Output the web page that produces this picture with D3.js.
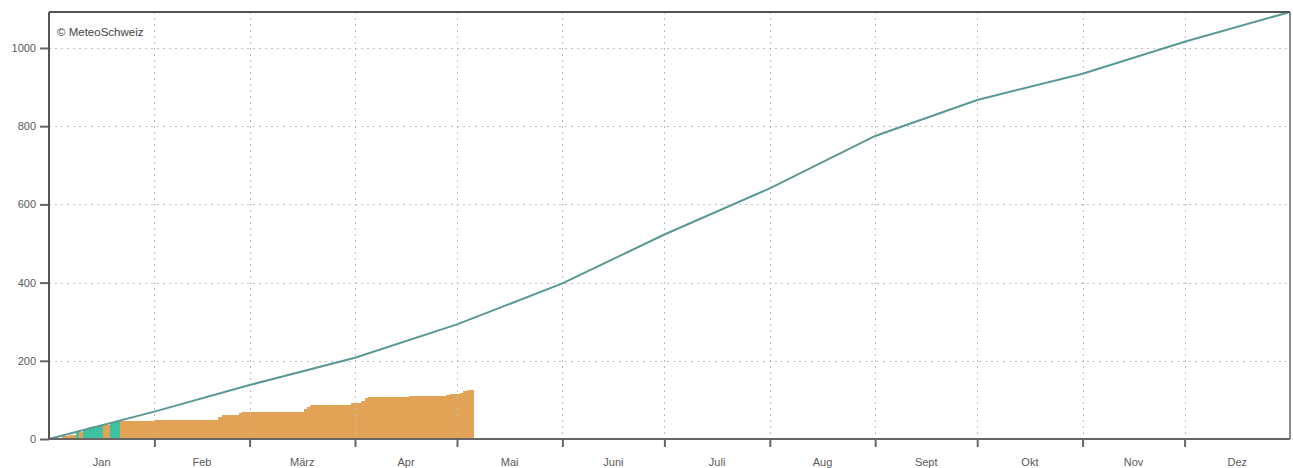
<!DOCTYPE html>
<html><head><meta charset="utf-8">
<script src="https://cdn.jsdelivr.net/npm/d3@7"></script>
<style>
html,body{margin:0;padding:0;background:#fff;}
svg{display:block;font-family:"Liberation Sans",Arial,sans-serif;}
</style></head>
<body>
<svg id="chart" width="1293" height="468"></svg>
<script>
const months = ["Jan","Feb","März","Apr","Mai","Juni","Juli","Aug","Sept","Okt","Nov","Dez"];
// cumulative normal precipitation (mm) at each month start, Jan 1 .. Jan 1 next year
const normalValues = [0,70,138,208,293,398,523,641,775,867,934,1016,1092];
// observed daily cumulative precipitation (mm) from Jan 1
const dailyCumulative = [
  0,0.5,1,2,7,8,9,10,19,19,
  24,27,30,32,33.5,35,35,35,42,44,
  46.5,47,47,47,47,47,47,47,47,47,
  47,48,48,48,48,48,48,48,48,48,
  48,48,48,48,48,48,48,48,48,48,
  56,61,61,61,61,61,66,69,69,69,
  69,69,69,69,69,69,69,69,69,69,
  69,69,69,69,69,76,82,87,88,88,
  88,88,88,88,88,88,88,88,88,92,
  92,92,96,106,108,108,108,108,108,108,
  108,108,108,108,108,108,109,109,109,109,
  109,109,109,109,109,109,109,113,114,114,
  115,118,124,125,125
];
const yTicks = [0,200,400,600,800,1000];
const copyright = "© MeteoSchweiz";

(function(){
const year = 2023;
const monthStarts = d3.range(13).map(m => new Date(Date.UTC(year, m, 1)));
const dayDates = dailyCumulative.map((v,i) => new Date(Date.UTC(year, 0, 1 + i)));

const svg = d3.select("#chart");
const mLeft = 49, mRight = 1290, mTop = 12, mBottom = 439;

const x = d3.scaleUtc().domain([monthStarts[0], monthStarts[12]]).range([mLeft, mRight]);
const y = d3.scaleLinear().domain([0, 1092]).range([mBottom, mTop]);
const normalAt = d3.scaleUtc().domain(monthStarts).range(normalValues);

const orange = "#e2a357", teal = "#3fc2a1";

// bars
svg.append("g").attr("shape-rendering","crispEdges")
  .selectAll("rect").data(dailyCumulative).join("rect")
  .attr("x", (d,i) => Math.floor(x(dayDates[i])))
  .attr("width", (d,i) => Math.ceil(x(d3.utcDay.offset(dayDates[i],1))) - Math.floor(x(dayDates[i])))
  .attr("y", d => y(d))
  .attr("height", d => mBottom - y(d))
  .attr("fill", (d,i) => d > normalAt(dayDates[i]) ? teal : orange);

// grid
const grid = svg.append("g").attr("stroke","#bdbdbd").attr("stroke-width",1).attr("stroke-dasharray","2,4");
grid.selectAll("line.h").data(yTicks.filter(v => v > 0)).join("line").attr("class","h")
  .attr("x1", mLeft).attr("x2", mRight).attr("y1", d => Math.round(y(d))+0.5).attr("y2", d => Math.round(y(d))+0.5);
grid.selectAll("line.v").data(monthStarts.slice(1,12)).join("line").attr("class","v")
  .attr("y1", mTop).attr("y2", mBottom).attr("x1", d => Math.round(x(d))+0.5).attr("x2", d => Math.round(x(d))+0.5);

// normal line
svg.append("path").datum(normalValues)
  .attr("fill","none").attr("stroke","#5a9896").attr("stroke-width",2)
  .attr("d", d3.line().x((d,i) => x(monthStarts[i])).y(d => y(d)));

// axes
const yAxis = svg.append("g").attr("transform",`translate(${mLeft},0)`)
  .call(d3.axisLeft(y).tickValues(yTicks).tickFormat(d3.format("d")).tickSize(9).tickPadding(4));
yAxis.select(".domain").remove();
yAxis.selectAll(".tick line").attr("stroke","#666").attr("stroke-width",2);
yAxis.selectAll(".tick text").attr("fill","#5a5a5a").style("font-size","11px").style("font-family","'Liberation Sans',Arial,sans-serif");

const xAxis = svg.append("g").attr("transform",`translate(0,${mBottom})`)
  .call(d3.axisBottom(x).tickValues(monthStarts.slice(1,12)).tickSize(8).tickFormat(""));
xAxis.select(".domain").remove();
xAxis.selectAll(".tick line").attr("stroke","#666").attr("stroke-width",2);

svg.append("g").selectAll("text").data(months).join("text")
  .attr("x", (d,i) => (x(monthStarts[i]) + x(monthStarts[i+1])) / 2)
  .attr("y", 466)
  .attr("text-anchor","middle").attr("fill","#5a5a5a").style("font-size","11px")
  .text(d => d);

// frame
svg.append("line").attr("x1",mLeft).attr("x2",mRight).attr("y1",mTop).attr("y2",mTop).attr("stroke","#555").attr("stroke-width",2);
svg.append("line").attr("x1",mRight).attr("x2",mRight).attr("y1",mTop).attr("y2",mBottom).attr("stroke","#666").attr("stroke-width",1.5);
svg.append("line").attr("x1",mLeft).attr("x2",mRight).attr("y1",mBottom).attr("y2",mBottom).attr("stroke","#666").attr("stroke-width",2);
svg.append("line").attr("x1",mLeft).attr("x2",mLeft).attr("y1",mTop).attr("y2",mBottom).attr("stroke","#555").attr("stroke-width",2);

svg.append("text").attr("x",57).attr("y",36).attr("fill","#444").style("font-size","11.5px").text(copyright);
})();
</script>
</body></html>
